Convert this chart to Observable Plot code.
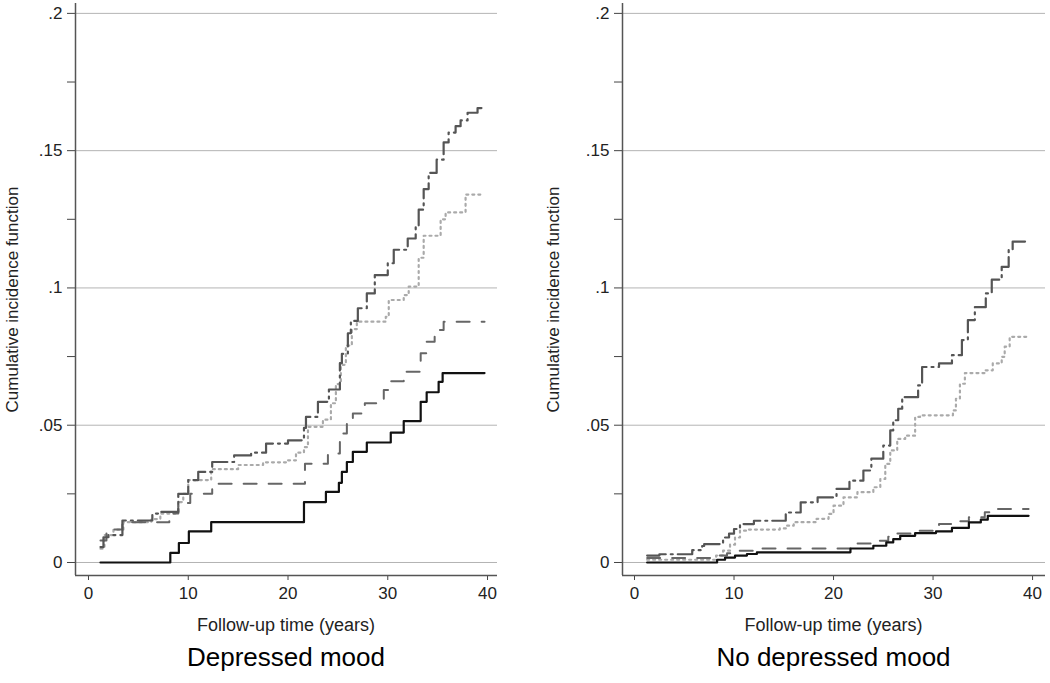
<!DOCTYPE html>
<html>
<head>
<meta charset="utf-8">
<script src="https://cdn.jsdelivr.net/npm/d3@7"></script>
<script src="https://cdn.jsdelivr.net/npm/@observablehq/plot@0.6"></script>
<style>
  html, body { margin: 0; padding: 0; background: #fff; }
  #wrap { display: flex; width: 1050px; height: 683px; font-family: "Liberation Sans", Arial, Helvetica, sans-serif; color: #111; }
  .panel { width: 525px; position: relative; }
  .xlabel { font-size: 18px; line-height: 22px; text-align: center; margin-top: 2px; color: #222; }
  .title { font-size: 26px; line-height: 30px; text-align: center; margin-top: 6px; color: #000; }
</style>
</head>
<body>
<div id="wrap"><div class="panel" id="p1"></div><div class="panel" id="p2"></div></div>
<script>
// ---- data: [follow-up years, cumulative incidence] change points of each step curve ----
const panelTitles = ["Depressed mood", "No depressed mood"];
const xLabel = "Follow-up time (years)";
const yLabel = "Cumulative incidence function";
const xTicks = [0, 10, 20, 30, 40];
const yTicks = [0, 0.05, 0.1, 0.15, 0.2];
const yMinorTicks = [0.025, 0.075, 0.125, 0.175];

const depSolid = [[1.2,0],[8.2,0.0035],[9.06,0.0071],[10.06,0.0113],[12.3,0.0147],[21.6,0.022],[23.8,0.0257],[25.1,0.029],[25.4,0.033],[25.9,0.0366],[26.5,0.0403],[27.9,0.0437],[30.3,0.0473],[31.6,0.0515],[33.3,0.0585],[33.9,0.062],[35.1,0.0658],[35.5,0.069],[39.7,0.069]];
const depDashed = [[1.2,0.008],[1.8,0.012],[3.4,0.0147],[8.1,0.0178],[9.0,0.0217],[10.2,0.025],[12.4,0.0287],[21.7,0.036],[24.0,0.0397],[25.2,0.047],[25.9,0.0506],[26.5,0.0543],[27.7,0.058],[29.6,0.0628],[30.3,0.066],[31.6,0.0695],[33.3,0.0762],[33.9,0.0804],[34.7,0.0847],[35.6,0.0877],[39.7,0.0877]];
const depDotted = [[1.2,0.005],[1.6,0.010],[2.5,0.012],[3.5,0.0147],[6.3,0.0158],[7.2,0.0178],[9.0,0.022],[9.5,0.025],[10.0,0.030],[12.3,0.034],[15,0.0355],[17.5,0.0365],[20.0,0.0372],[20.8,0.040],[21.6,0.042],[22.0,0.0494],[23.5,0.052],[24.3,0.058],[24.8,0.065],[25.3,0.072],[25.8,0.079],[26.4,0.085],[26.9,0.0877],[29.8,0.0895],[30.1,0.0956],[31.6,0.0974],[32.1,0.1005],[33.1,0.111],[33.6,0.119],[35.3,0.125],[35.8,0.1275],[37.8,0.134],[39.6,0.134]];
const depDashDot = [[1.2,0.0056],[1.5,0.0092],[2.0,0.010],[3.4,0.0153],[6.4,0.0178],[7.0,0.0184],[9.0,0.025],[10.0,0.030],[11.0,0.033],[12.4,0.0366],[14.6,0.039],[16.3,0.040],[17.8,0.0433],[20.0,0.0445],[21.6,0.049],[21.8,0.053],[23.0,0.0585],[24.1,0.063],[25.2,0.0726],[25.4,0.076],[26.0,0.0835],[26.3,0.088],[27.0,0.0926],[27.9,0.098],[28.7,0.1047],[30.0,0.109],[30.6,0.1139],[32.0,0.118],[32.8,0.1224],[33.1,0.1285],[33.6,0.136],[34.1,0.1419],[34.9,0.1467],[35.6,0.153],[36.1,0.1566],[36.8,0.1589],[37.3,0.161],[38.0,0.1638],[39.0,0.1655],[39.6,0.1655]];

const noSolid = [[1.27,0],[8.3,0.001],[9.1,0.0018],[10.1,0.0025],[11.3,0.0031],[12.3,0.0037],[21.7,0.0051],[24,0.0061],[25.3,0.0073],[26,0.0085],[26.7,0.0097],[28.2,0.0107],[30.3,0.0113],[31.9,0.0126],[33.6,0.0146],[34.8,0.0156],[35.5,0.017],[39.6,0.017]];
const noDashed = [[1.27,0.0016],[8.0,0.0025],[9.3,0.0034],[10.0,0.0043],[12.5,0.0051],[22,0.0069],[24.2,0.0079],[25.5,0.0094],[26.2,0.0106],[27.8,0.0116],[30.3,0.0126],[30.6,0.014],[31.9,0.015],[33.6,0.0165],[35.2,0.0183],[36,0.0195],[39.6,0.0195]];
const noDotted = [[1.27,0.001],[8.2,0.0025],[8.9,0.0043],[9.6,0.0065],[10.1,0.0091],[10.6,0.0116],[11.2,0.012],[14.6,0.0124],[15.3,0.0134],[16,0.0147],[18.3,0.0159],[19.5,0.0177],[20,0.0207],[21,0.0237],[22.4,0.0256],[24,0.0274],[24.7,0.0304],[25.2,0.0359],[25.7,0.0408],[26.4,0.045],[27.2,0.0462],[28.2,0.053],[28.7,0.0536],[32,0.0554],[32.3,0.0596],[32.7,0.0651],[33.2,0.069],[35.2,0.070],[36,0.0725],[36.9,0.0749],[37.2,0.0786],[37.7,0.0822],[39.6,0.0822]];
const noDashDot = [[1.27,0.0025],[2.5,0.003],[5.8,0.0045],[6.8,0.006],[7,0.0067],[8.9,0.0091],[9.5,0.0105],[10,0.0122],[10.6,0.014],[12,0.0152],[15.2,0.0182],[16.7,0.0219],[18.4,0.0237],[20.3,0.0268],[21.6,0.0298],[23,0.0335],[23.8,0.0378],[25,0.0426],[25.7,0.0481],[26,0.0518],[26.5,0.056],[26.9,0.0602],[28.5,0.0645],[28.9,0.0712],[30.6,0.0725],[31.9,0.0755],[32.9,0.081],[33.5,0.0883],[34.2,0.093],[35.3,0.098],[35.9,0.103],[36.9,0.1077],[37.6,0.1139],[38,0.1169],[39.6,0.1169]];

const styles = {
  solid:   {stroke: "#111", strokeWidth: 2.2},
  dashed:  {stroke: "#666", strokeWidth: 2, strokeDasharray: "13,12"},
  dotted:  {stroke: "#aaaaaa", strokeWidth: 2.2, strokeDasharray: "2,4"},
  dashdot: {stroke: "#555", strokeWidth: 2.2, strokeDasharray: "20,5,2,5"}
};

const fmtY = d => d === 0 ? "0" : d3.format(".2~f")(d).replace(/^0/, "");
const toRows = arr => arr.map(([t, v]) => ({t, v}));

function panel(el, series, cfg) {
  const chart = Plot.plot({
    width: 525, height: 612,
    marginLeft: cfg.ml, marginRight: cfg.mr, marginTop: 3, marginBottom: 37,
    style: {fontFamily: '"Liberation Sans", Arial, Helvetica, sans-serif', background: "#fff", color: "#222"},
    x: {domain: cfg.xdom},
    y: {domain: [-0.00474, 0.2036]},
    marks: [
      Plot.gridY(yTicks, {stroke: "#b4b4b4", strokeOpacity: 1, strokeWidth: 1}),
      Plot.axisY({ticks: yMinorTicks, tickSize: 8, tickFormat: () => "", label: null, stroke: "#444"}),
      Plot.axisY({ticks: yTicks, tickSize: 8, tickPadding: 5, tickFormat: fmtY, fontSize: 17, stroke: "#444", fill: "#222", label: null}),
      Plot.axisX({ticks: xTicks, tickSize: 5, tickPadding: 6, fontSize: 17, label: null, stroke: "#444", fill: "#222"}),
      Plot.text([yLabel], {frameAnchor: "left", textAnchor: "middle", lineAnchor: "middle", rotate: -90, dx: -cfg.lo, dy: 10, fontSize: 17, fill: "#222"}),
      Plot.ruleX([cfg.xdom[0]], {stroke: "#555", strokeWidth: 1.5}),
      Plot.ruleY([-0.00474], {stroke: "#555", strokeWidth: 1.5}),
      Plot.line(toRows(series.dotted), {x: "t", y: "v", curve: "step-after", ...styles.dotted}),
      Plot.line(toRows(series.dashed), {x: "t", y: "v", curve: "step-after", ...styles.dashed}),
      Plot.line(toRows(series.dashdot), {x: "t", y: "v", curve: "step-after", ...styles.dashdot}),
      Plot.line(toRows(series.solid), {x: "t", y: "v", curve: "step-after", ...styles.solid})
    ]
  });
  el.appendChild(chart);
  const xl = document.createElement("div");
  xl.className = "xlabel";
  xl.style.marginLeft = cfg.ml + "px";
  xl.style.width = (525 - cfg.ml - cfg.mr) + "px";
  xl.textContent = xLabel;
  el.appendChild(xl);
  const tt = document.createElement("div");
  tt.className = "title";
  tt.style.marginLeft = cfg.ml + "px";
  tt.style.width = (525 - cfg.ml - cfg.mr) + "px";
  tt.textContent = cfg.title;
  el.appendChild(tt);
}

panel(document.getElementById("p1"),
  {solid: depSolid, dashed: depDashed, dotted: depDotted, dashdot: depDashDot},
  {ml: 75, mr: 28, xdom: [-1.303, 41.0], lo: 63, title: panelTitles[0]});
panel(document.getElementById("p2"),
  {solid: noSolid, dashed: noDashed, dotted: noDotted, dashdot: noDashDot},
  {ml: 97, mr: 5, xdom: [-1.206, 41.3], lo: 69, title: panelTitles[1]});
</script>
</body>
</html>
